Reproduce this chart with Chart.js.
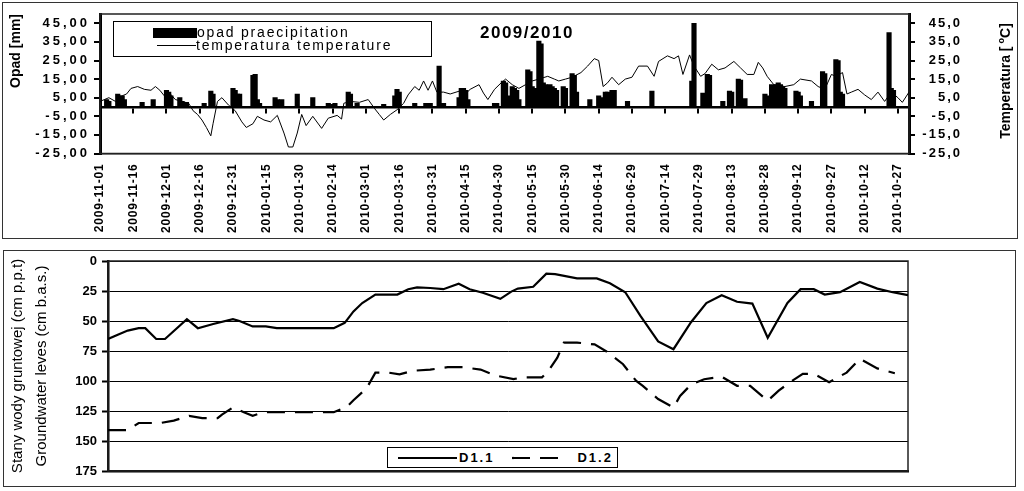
<!DOCTYPE html>
<html>
<head>
<meta charset="utf-8">
<script src="https://cdn.jsdelivr.net/npm/chart.js"></script>
<style>
  html, body { margin: 0; padding: 0; background: #fff; }
  body { width: 1024px; height: 491px; position: relative; overflow: hidden; font-family: "Liberation Sans", Arial, sans-serif; color: #000; }
  .wrap { position: absolute; left: 0; width: 1024px; }
  #wTop { top: 0; height: 245px; }
  #wBot { top: 245px; height: 246px; }
  .panel { position: absolute; border: 1.5px solid #333; box-sizing: border-box; pointer-events: none; }
  #title { position: absolute; left: 480px; top: 24px; font-weight: bold; font-size: 17px; line-height: 17px; letter-spacing: 1.5px; }
  #topLegend { position: absolute; left: 113px; top: 21px; width: 319px; height: 36px; border: 1px solid #000; box-sizing: border-box; background: #fff; font-size: 14px; letter-spacing: 1.8px; }
  #topLegend .item { position: absolute; left: 0; height: 13px; line-height: 13px; white-space: nowrap; }
  #topLegend .bar { display: inline-block; width: 44px; height: 10px; background: #000; margin-left: 39px; vertical-align: -1px; }
  #topLegend .line { display: inline-block; width: 39px; height: 1px; background: #000; margin-left: 43px; vertical-align: 4px; }
  #tempTitle { position: absolute; left: 931px; top: 73px; width: 140px; height: 16px; line-height: 16px; text-align: center; font-weight: bold; font-size: 14px; transform: rotate(-90deg); white-space: nowrap; }
  #tempTitle sup { font-size: 9px; margin-left: 3px; }
  #botLegend { position: absolute; left: 387px; top: 447px; width: 231px; height: 21px; border: 1px solid #000; box-sizing: border-box; background: #fff; display: flex; align-items: center; font-weight: bold; font-size: 13px; letter-spacing: 2px; }
  #botLegend svg { display: block; }
</style>
</head>
<body>
<div class="wrap" id="wTop"><canvas id="cTop"></canvas></div>
<div class="wrap" id="wBot"><canvas id="cBot"></canvas></div>
<div id="topLegend"></div>
<div id="title">2009/2010</div>
<div id="tempTitle">Temperatura [<sup>o</sup>C]</div>
<div id="botLegend"></div>
<div class="panel" style="left:2px;top:2px;width:1016px;height:237px"></div>
<div class="panel" style="left:3px;top:250px;width:1013px;height:237px"></div>
<script>
// dni liczone od 2009-11-01
const dateLabels = ['2009-11-01', '2009-11-16', '2009-12-01', '2009-12-16', '2009-12-31', '2010-01-15',
  '2010-01-30', '2010-02-14', '2010-03-01', '2010-03-16', '2010-03-31', '2010-04-15', '2010-04-30',
  '2010-05-15', '2010-05-30', '2010-06-14', '2010-06-29', '2010-07-14', '2010-07-29', '2010-08-13',
  '2010-08-28', '2010-09-12', '2010-09-27', '2010-10-12', '2010-10-27'];
const precipTicks = [-25, -15, -5, 5, 15, 25, 35, 45];

// opad [mm]
const rainDay = [3, 4, 8, 9, 10, 11, 19, 24, 30, 31, 32, 36, 37, 39, 47, 50, 51, 60, 61, 62, 63, 69, 70, 71, 72,
  79, 80, 82, 89, 96, 103, 105, 106, 112, 113, 116, 128, 133, 134, 135, 142, 147, 149, 153, 155, 162, 163, 164,
  165, 166, 178, 179, 182, 183, 184, 186, 187, 188, 189, 193, 194, 195, 196, 198, 199, 200, 201, 202, 203, 204,
  205, 206, 209, 210, 213, 214, 215, 221, 225, 226, 228, 229, 231, 232, 238, 249, 267, 268, 272, 274, 275, 281,
  284, 285, 288, 289, 291, 300, 301, 303, 304, 305, 306, 307, 308, 309, 314, 315, 316, 321, 326, 327, 332, 333,
  334, 335, 356, 357, 358];
const rainMm = [4, 3, 7, 6, 6, 4, 2.5, 4, 9, 8, 6, 5, 3, 2.5, 2, 8.5, 7, 10, 9, 7, 7, 17, 17.5, 4, 2,
  5, 4, 4, 7, 5, 2, 1.5, 2, 8, 7, 2, 1.5, 6, 9.5, 8, 2, 2, 2, 22, 2, 5, 10, 10,
  9, 4, 2, 2, 14, 13, 6, 11, 10, 9, 4, 20, 19, 11, 10, 35.5, 34, 13, 12, 11, 12, 11,
  10, 9, 11, 10, 18, 17, 8, 4, 6, 5, 8, 8, 9, 9, 3, 8.5, 14, 45, 7.5, 17.5, 17, 3,
  8.5, 8, 15, 14.5, 4.5, 7, 6, 12, 11, 12, 13, 12, 11, 10, 8.5, 8, 6, 3, 19, 18, 25.5, 25,
  8, 7, 40, 10, 9];

// temperatura [C]
const tempDay = [0, 2, 4, 7, 10, 12, 14, 17, 20, 23, 25, 27, 29, 31, 34, 37, 40, 42, 44, 46,
  48, 50, 51, 53, 55, 58, 61, 64, 66, 69, 71, 74, 77, 80, 83, 85, 87, 89, 91, 93,
  96, 100, 103, 107, 109, 110, 113, 117, 121, 124, 126, 128, 131, 134, 137, 139, 142, 144, 146, 148,
  150, 152, 155, 158, 162, 164, 167, 171, 173, 175, 178, 181, 183, 186, 189, 192, 195, 198, 202, 205,
  207, 210, 213, 217, 220, 223, 225, 227, 229, 231, 234, 237, 240, 243, 247, 250, 252, 256, 259, 261,
  263, 266, 268, 271, 273, 276, 279, 282, 286, 289, 292, 295, 297, 299, 301, 304, 309, 313, 316, 321,
  324, 327, 330, 332, 335, 337, 339, 342, 345, 348, 351, 354, 357, 360, 362, 365];
const tempC = [3, 4, 5, 3, 6, 7, 10, 11, 9.5, 9, 11, 9, 6, 8, 4, 3, 2, -2, -4, -7,
  -11, -15.5, -9, 3, 5, 1, -2, -8, -11, -9, -5, -7, -8, -4.5, -14, -21.5, -21.5, -14, -4, -10,
  -5, -11.5, -6, -4.5, -6.5, 2, 3, 2.5, 4, -1, -4, -7, -4, -1.5, 2, 6.5, 11, 9, 14, 9,
  14, 8, 8, 7, 8.5, 6, 9.5, 12, 7.5, 4, 9.5, 13, 15, 12, 10, 12, 14, 15, 16.5, 15,
  14, 15, 16, 18.5, 22, 26, 25, 11, 13, 16, 12, 15, 16, 22, 22, 16.5, 24.5, 27.5, 26, 27.5,
  17.5, 28, 22, 16.5, 18, 23, 20, 21, 24.5, 21, 17.5, 17.5, 24, 21, 16.5, 12, 11, 12, 15, 14,
  11, 9.5, 17.5, 16.5, 18.5, 7, 8, 9.5, 6.5, 4, 8, 3, 8, 5, 2.5, 8];

// stany wody gruntowej [cm p.p.t.]
const d11Day = [0, 5, 9, 14, 17, 22, 26, 36, 41, 48, 57, 60, 66, 72, 77, 103, 108, 112, 116, 122,
  132, 137, 141, 147, 153, 160, 165, 171, 179, 184, 187, 194, 200, 204, 214, 223, 229, 236, 243, 251,
  258, 266, 273, 280, 287, 294, 301, 310, 316, 322, 327, 334, 343, 351, 358, 365];
const d11Cm = [65, 61, 58, 56, 56, 65, 65, 48.5, 56, 52.5, 48.5, 50, 54.5, 54.5, 56, 56, 51.5, 42, 35, 28,
  28, 23.5, 22, 22.5, 23.5, 19, 23.5, 26.5, 31.5, 25.5, 23, 21.5, 10.5, 11, 14.5, 14.5, 18.5, 26, 46, 67,
  73.5, 51, 35, 28.5, 34, 35.5, 64, 35, 23.5, 23.5, 28, 26, 17.5, 23, 26, 28.5];
const d12Day = [0, 9, 14, 24, 30, 37, 43, 50, 52, 57, 62, 66, 71, 80, 94, 103, 109, 112, 118, 122,
  128, 133, 139, 147, 155, 162, 170, 177, 185, 189, 198, 201, 205, 208, 214, 222, 228, 235, 241, 244,
  251, 258, 261, 266, 272, 280, 287, 293, 301, 306, 312, 317, 322, 329, 337, 343, 351, 359];
const d12Cm = [141, 141, 135, 135, 133, 129, 131, 131, 128, 122, 126, 129, 126, 126, 126, 126, 121.5, 116, 106, 93,
  93, 94.5, 91.5, 90.5, 88.5, 88.5, 90.5, 95.5, 98.5, 97, 97, 91.5, 80.5, 68, 68, 69.5, 76, 86, 100, 104,
  115, 122, 112.5, 103, 98.5, 96.5, 104, 104, 116.5, 108, 100, 94, 94, 101, 93, 81.5, 89.5, 93.5];

Chart.defaults.font.family = '"Liberation Sans", Arial, sans-serif';
Chart.defaults.color = '#000';

const pts = (xs, ys) => xs.map((x, i) => ({ x, y: ys[i] }));
const bold = size => ({ size, weight: 'bold' });
const dateTicks = ax => { ax.ticks = dateLabels.map((_, i) => ({ value: i * 15 })); };

// rozstrzelone etykiety osi (jak w oryginale z Excela)
function spaced(px) {
  return ax => {
    if (ax._spaced) return;
    ax._spaced = true;
    const draw = ax.drawLabels;
    ax.drawLabels = function (area) {
      this.ctx.save();
      this.ctx.letterSpacing = px + 'px';
      draw.call(this, area);
      this.ctx.restore();
    };
  };
}

const frame = {
  id: 'frame',
  beforeDatasetsDraw(chart) {
    const { ctx, chartArea: a } = chart;
    ctx.save();
    ctx.strokeStyle = '#222';
    ctx.lineWidth = 1.5;
    ctx.strokeRect(a.left, a.top, a.width, a.height);
    ctx.restore();
  }
};

// ── opad + temperatura ──
const topChart = new Chart(document.getElementById('cTop'), {
  type: 'bar',
  data: {
    datasets: [
      { type: 'bar', label: 'opad praecipitation', data: pts(rainDay, rainMm), xAxisID: 'x', yAxisID: 'y',
        backgroundColor: '#000', barThickness: 4.5, order: 0 },
      { type: 'line', label: 'temperatura temperature', data: pts(tempDay, tempC), xAxisID: 'x', yAxisID: 'y2',
        borderColor: '#000', borderWidth: 1, pointRadius: 0, tension: 0, order: 1 }
    ]
  },
  options: {
    responsive: true, maintainAspectRatio: false, animation: false,
    layout: { padding: { left: 8, right: 62, top: 14, bottom: 0 } },
    plugins: { legend: { display: false }, tooltip: { enabled: false } },
    scales: {
      x: {
        type: 'linear', min: 0, max: 365, offset: false, position: 'bottom',
        grid: { display: false, drawTicks: false, offset: false },
        border: { color: '#222', width: 1.5 },
        ticks: { autoSkip: false, minRotation: 90, maxRotation: 90, padding: 10, font: bold(12),
          callback: (v, i) => dateLabels[i] },
        afterBuildTicks: dateTicks,
        afterFit: ax => { ax.height = 91.5; },
        afterUpdate: spaced(0.8)
      },
      x0: {
        type: 'linear', min: 0, max: 365, offset: false, position: { y: 0 },
        grid: { drawOnChartArea: false, tickLength: 5, color: '#000', lineWidth: 2, offset: false },
        border: { color: '#000', width: 2.5 },
        ticks: { display: false },
        afterBuildTicks: dateTicks
      },
      y: {
        position: 'left', min: -25, max: 50,
        grid: { drawOnChartArea: false, tickLength: 6, color: '#000', lineWidth: 2 },
        border: { color: '#000', width: 3 },
        ticks: { autoSkip: false, padding: 4, font: bold(13), callback: v => v.toFixed(2).replace('.', ',') },
        afterBuildTicks: ax => { ax.ticks = precipTicks.map(v => ({ value: v })); },
        title: { display: true, text: 'Opad [mm]', align: 'end', font: bold(14), padding: 0 },
        afterFit: ax => { ax.width = 92; },
        afterUpdate: spaced(3)
      },
      y2: {
        position: 'right', min: -25, max: 50,
        grid: { drawOnChartArea: false, tickLength: 6, color: '#000', lineWidth: 2 },
        border: { color: '#000', width: 3 },
        ticks: { autoSkip: false, padding: 0, crossAlign: 'far', font: bold(13), callback: v => v.toFixed(1).replace('.', ',') },
        afterBuildTicks: ax => { ax.ticks = precipTicks.map(v => ({ value: v })); },
        afterFit: ax => { ax.width = 53; },
        afterUpdate: spaced(2)
      }
    }
  },
  plugins: [frame]
});

document.getElementById('topLegend').innerHTML = topChart.data.datasets.map((ds, i) =>
  `<div class="item" style="top:${4 + i * 13}px"><span class="${ds.type}"></span>${ds.label}</div>`).join('');

// ── stany wód gruntowych ──
const botChart = new Chart(document.getElementById('cBot'), {
  type: 'line',
  data: {
    datasets: [
      { label: 'D1.1', data: pts(d11Day, d11Cm), borderColor: '#000', borderWidth: 2.2, pointRadius: 0, tension: 0 },
      { label: 'D1.2', data: pts(d12Day, d12Cm), borderColor: '#000', borderWidth: 2.2, pointRadius: 0, tension: 0,
        borderDash: [18, 10] }
    ]
  },
  options: {
    responsive: true, maintainAspectRatio: false, animation: false,
    layout: { padding: { left: 6, right: 116, top: 16, bottom: 0 } },
    plugins: { legend: { display: false }, tooltip: { enabled: false } },
    scales: {
      x: {
        type: 'linear', min: 0, max: 365,
        grid: { display: false, drawTicks: false },
        border: { color: '#000', width: 2.5 },
        ticks: { display: false },
        afterFit: ax => { ax.height = 20; }
      },
      y: {
        reverse: true, min: 0, max: 175,
        grid: { color: '#000', lineWidth: 1, tickLength: 6, tickWidth: 2 },
        border: { color: '#000', width: 2.5 },
        ticks: { stepSize: 25, padding: 5, font: bold(13) },
        title: { display: true, text: ['Stany wody gruntowej (cm p.p.t)', 'Groundwater leves (cm b.a.s.)'],
          font: { size: 15, lineHeight: 1.6 }, padding: 0 },
        afterFit: ax => { ax.width = 102; }
      }
    }
  },
  plugins: [frame]
});

const sample = ds => `<svg width="${ds.borderDash ? 53 : 59}" height="4"><line x1="0" y1="2" x2="${ds.borderDash ? 53 : 59}" y2="2"
  stroke="#000" stroke-width="2.2" ${ds.borderDash ? 'stroke-dasharray="' + ds.borderDash.join(' ') + '"' : ''}/></svg>`;
document.getElementById('botLegend').innerHTML = botChart.data.datasets.map((ds, i) =>
  `<span style="margin-left:${i ? 18 : 10}px">${sample(ds)}</span><span style="margin-left:${i ? 12 : 2}px">${ds.label}</span>`).join('');
</script>
</body>
</html>
